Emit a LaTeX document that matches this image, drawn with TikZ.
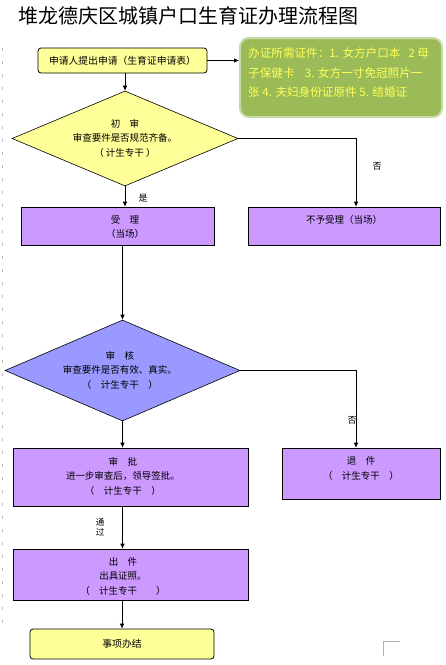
\documentclass[tikz,border=0pt]{standalone}
\usepackage{fontspec}
\setmainfont{Noto Sans CJK SC}
\usetikzlibrary{shapes.geometric,arrows.meta,calc}
\definecolor{ylw}{HTML}{FFFF99}
\definecolor{prp}{HTML}{CC99FF}
\definecolor{blu}{HTML}{9999FF}
\definecolor{grn}{HTML}{9BBB59}
\definecolor{grnb}{HTML}{C9D9A8}
\definecolor{txy}{HTML}{FFFF55}
\tikzset{
  ybox/.style={draw=black, fill=ylw, rounded corners=3pt, line width=0.8pt, font=\fontsize{9.8}{13}\selectfont, inner sep=0pt},
  pbox/.style={draw=black, fill=prp, line width=0.6pt, inner sep=0pt},
  dmd/.style={diamond, draw=black, line width=0.6pt, inner sep=0pt},
  btxt/.style={font=\fontsize{9.5}{14.5}\selectfont, align=center, inner sep=0pt},
  lbl/.style={font=\fontsize{9}{10}\selectfont, inner sep=0pt},
  arr/.style={-{Latex[length=5pt,width=4.5pt]}, line width=0.6pt},
}
\begin{document}
\begin{tikzpicture}[x=1pt,y=-1pt]
\useasboundingbox (0,0) rectangle (446,665);
% title
\node[anchor=west, font=\fontsize{20}{22}\selectfont, inner sep=0pt] (title) at (18,16) {堆龙德庆区城镇户口生育证办理流程图};
% nodes
\node[ybox, minimum width=169pt, minimum height=25pt] (apply) at (122.5,60.5) {申请人提出申请（生育证申请表）};
\node[draw=grnb, line width=2pt, fill=grn, rounded corners=9pt, minimum width=202pt, minimum height=79pt] (docs) at (341,77.5) {};
\node[anchor=north west, text=txy, font=\fontsize{11.6}{19.5}\selectfont, align=left, inner sep=0pt] (docstxt) at (248,47.5) {办证所需证件：1. 女方户口本\ \ \ 2 母\\子保健卡\ \ \ \ 3. 女方一寸免冠照片一\\张 4. 夫妇身份证原件 5. 结婚证};
\node[dmd, fill=ylw, minimum width=226pt, minimum height=95pt] (d1) at (125,138.5) {};
\node[btxt] (d1t) at (125,138) {初\quad 审\\审查要件是否规范齐备。\\（ 计生专干 ）};
\node[pbox, minimum width=193pt, minimum height=38pt] (accept) at (117.5,226) {};
\node[btxt] (acct) at (125,227) {受\quad 理\\（当场）};
\node[pbox, minimum width=192pt, minimum height=38pt] (reject) at (344,226) {};
\node[btxt] (rejt) at (344,220) {不予受理（当场）};
\node[dmd, fill=blu, minimum width=235pt, minimum height=101pt] (d2) at (122.5,370.5) {};
\node[btxt] (d2t) at (120,370) {审\quad 核\\审查要件是否有效、真实。\\（\quad 计生专干\quad ）};
\node[pbox, minimum width=235pt, minimum height=58pt] (approve) at (130.5,477) {};
\node[btxt] (appt) at (123,476) {审\quad 批\\进一步审查后，领导签批。\\（\quad 计生专干\quad ）};
\node[pbox, minimum width=158pt, minimum height=51pt] (ret) at (361,473.5) {};
\node[btxt] (rett) at (361,468.5) {退\quad 件\\（\quad 计生专干\quad ）};
\node[pbox, minimum width=235pt, minimum height=51pt] (issue) at (130.5,574.5) {};
\node[btxt] (isst) at (123,576) {出\quad 件\\出具证照。\\（\quad 计生专干\qquad ）};
\node[ybox, minimum width=184pt, minimum height=30pt] (done) at (122,644) {事项办结};
% connectors
\draw[arr] (apply.east) -- (apply.east -| docs.west);
\draw[arr] (apply.south -| d1.north) -- (d1.north);
\draw[arr] (d1.east) -| ($(reject.north)+(12,0)$);
\draw[arr] (d1.south) -- (d1.south |- accept.north);
\draw[arr] (accept.south -| d2.north) -- (d2.north);
\draw[arr] (d2.east) -| ($(ret.north)+(-5,0)$);
\draw[arr] (d2.south) -- (d2.south |- approve.north);
\draw[arr] (approve.south -| d2.south) -- (issue.north -| d2.south);
\draw[arr] (issue.south -| done.north) -- (done.north);
% labels
\node[lbl] (no1) at (377,166) {否};
\node[lbl] (yes1) at (143,198) {是};
\node[lbl] (no2) at (352,420) {否};
\node[lbl, align=center, font=\fontsize{8.5}{10}\selectfont] (pass) at (100,527) {通\\过};
% page marks
\draw[gray!60, line width=0.5pt] (383,656) -- (383,641) -- (400,641);
\draw[gray!50, line width=0.5pt, dash pattern=on 3pt off 10pt] (2,48) -- (2,628);
\end{tikzpicture}
\end{document}
